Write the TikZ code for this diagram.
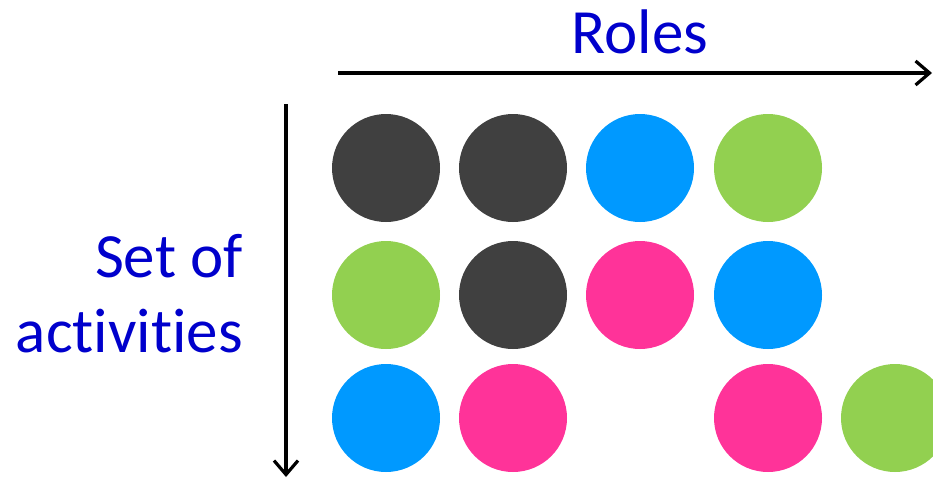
\documentclass[tikz,border=0pt]{standalone}
\usepackage{fontspec}
\setmainfont[Ligatures=NoCommon]{Carlito}
\usetikzlibrary{arrows.meta}
\definecolor{dk}{HTML}{404040}
\definecolor{bl}{HTML}{0099FF}
\definecolor{gr}{HTML}{92D050}
\definecolor{pk}{HTML}{FF3399}
\definecolor{tx}{HTML}{0000CC}
\begin{document}
\begin{tikzpicture}[x=1pt,y=-1pt,
  dot/.style={circle,minimum size=108pt,inner sep=0pt,fill=#1},
  axis/.style={line width=3.2pt,-{Straight Barb[length=14pt,width=24pt,line width=3.2pt]}},
  lbl/.style={text=tx,inner sep=0pt,font=\fontsize{63pt}{75pt}\selectfont}]
\useasboundingbox (0,0) rectangle (933,479);
\clip (0,0) rectangle (933,479);
\coordinate (hs) at (338,73);
\coordinate (he) at (932,73);
\coordinate (vs) at (286,104);
\coordinate (ve) at (286,477);
\draw[axis] (hs) -- (he);
\draw[axis] (vs) -- (ve);
\node[lbl,anchor=base] (roles) at (640,53) {Roles};
\node[lbl,anchor=base east,align=right] (set) at (243,352) {Set of\\activities};
\node[dot=dk] (c11) at (386,168) {};
\node[dot=dk] (c12) at (513,168) {};
\node[dot=bl] (c13) at (640,168) {};
\node[dot=gr] (c14) at (768,168) {};
\node[dot=gr] (c21) at (386,295) {};
\node[dot=dk] (c22) at (513,295) {};
\node[dot=pk] (c23) at (640,295) {};
\node[dot=bl] (c24) at (768,295) {};
\node[dot=bl] (c31) at (386,418) {};
\node[dot=pk] (c32) at (513,418) {};
\node[dot=pk] (c34) at (768,418) {};
\node[dot=gr] (c35) at (895,418) {};
\end{tikzpicture}
\end{document}
